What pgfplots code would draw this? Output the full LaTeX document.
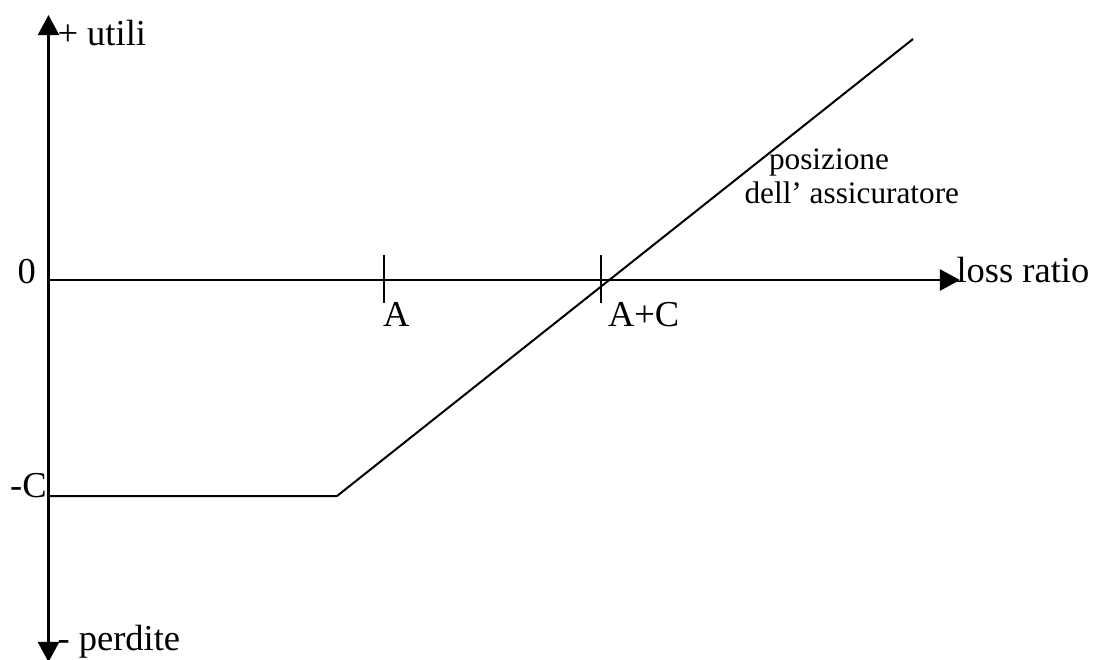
\documentclass[border=0pt]{standalone}
\usepackage{fontspec}
\setmainfont{Liberation Serif}
\usepackage{pgfplots}
\pgfplotsset{compat=1.18}
\usetikzlibrary{arrows.meta}
\begin{document}
\fontsize{14}{16}\selectfont
\begin{tikzpicture}
\begin{axis}[
  at={(0,0)}, anchor=south west,
  scale only axis,
  width=420.38pt, height=252.77pt,
  xmin=0, xmax=1096, ymin=0, ymax=659,
  y dir=reverse,
  hide axis,
  clip=false,
  cycle list={{black,no marks,line width=0.77pt}},
]
% axes
\addplot[black, no marks, line width=0.77pt, {Triangle[length=7.7pt,width=8.1pt]}-{Triangle[length=7.7pt,width=8.1pt]}] coordinates {(48.5,662) (48.5,15)};
\addplot[black, no marks, line width=0.77pt, -{Triangle[length=7.7pt,width=8.1pt]}] coordinates {(48.5,280) (960,280)};
% ticks
\addplot[black, no marks, line width=0.77pt] coordinates {(384,255) (384,303)};
\addplot[black, no marks, line width=0.77pt] coordinates {(601,255) (601,303)};
% position of the insurer
\addplot[black, no marks, line width=0.77pt] coordinates {(48.5,496) (337,496) (913,39)};
% labels
\node[anchor=base west, inner sep=0] at (axis cs:57,45) {+ utili};
\node[anchor=base west, inner sep=0] at (axis cs:17,283) {0};
\node[anchor=base west, inner sep=0] at (axis cs:9.6,497) {-C};
\node[anchor=base west, inner sep=0] at (axis cs:57,650) {- perdite};
\node[anchor=base west, inner sep=0] at (axis cs:956,282) {loss ratio};
\node[anchor=base west, inner sep=0] at (axis cs:382.5,326) {A};
\node[anchor=base west, inner sep=0] at (axis cs:607.5,326) {A+C};
\node[anchor=base west, inner sep=0, font=\fontsize{12}{14}\selectfont] at (axis cs:768.5,169) {posizione};
\node[anchor=base west, inner sep=0, font=\fontsize{12}{14}\selectfont] at (axis cs:744,203) {dell’ assicuratore};
\end{axis}
\pgfresetboundingbox
\path (0,0) rectangle (420.38pt,252.77pt);
\end{tikzpicture}
\end{document}
